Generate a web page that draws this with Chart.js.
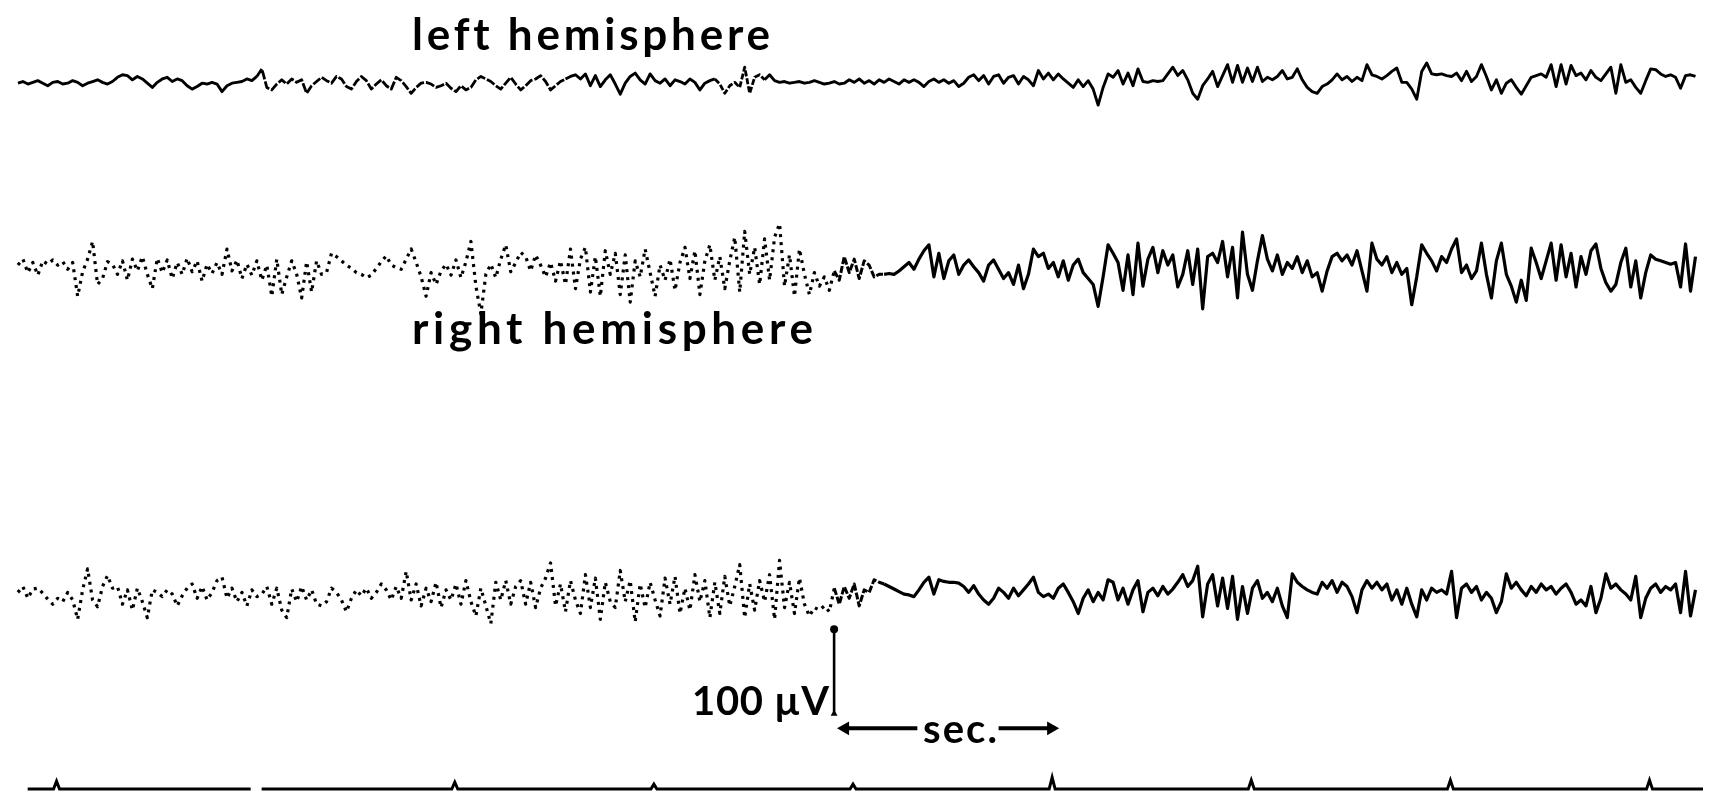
<!DOCTYPE html>
<html>
<head>
<meta charset="utf-8">
<script src="https://cdn.jsdelivr.net/npm/chart.js@4.4.1/dist/chart.umd.min.js"></script>
<style>
  html, body { margin: 0; padding: 0; background: #fff; }
  #wrap { position: relative; width: 1711px; height: 803px; overflow: hidden; }
  #eeg { position: absolute; left: 0; top: 0; }
  .lbl { position: absolute; font-family: Lato, "Open Sans", sans-serif; font-weight: 700; color: #000; white-space: nowrap; line-height: 1; }
</style>
</head>
<body>
<div id="wrap">
  <canvas id="eeg" width="1711" height="803"></canvas>
  <div class="lbl" id="lblLeft">left hemisphere</div>
  <div class="lbl" id="lblRight">right hemisphere</div>
  <div class="lbl" id="lblCal">100 µV</div>
  <div class="lbl" id="lblSec">sec.</div>
</div>
<script>
// sampling of the three traces (seconds)
const sampleStart = -0.194;
const sampleStep = 0.025;

// µV, upward positive
const channel1 = [
  -2, 0, -3, -1, 1, -2, -5, -1, 0, -3, -2, 1, -1, -5, -2, 0, 2, -1, -3, 0,
  5, 8, 7, 2, 6, 3, -2, -7, -1, 3, 5, 0, 3, 1, -5, -9, -6, -2, -3, -1,
  -3, -12, -5, -2, -1, 0, 3, 1, 6, 15, -7, -10, -3, 2, -3, 3, -1, 2, -14, -5,
  0, 5, 1, -2, 6, 3, -6, -9, 0, 6, 1, -9, -3, 2, -5, -9, 5, 1, -6, -14,
  -7, -2, -1, -3, -7, -5, -2, -8, -12, -5, -10, -7, 2, 6, 3, 0, -5, -9, -2, 5,
  -3, -10, -5, 1, 3, 7, 0, -10, -5, 0, 3, 6, 8, 3, 9, -5, 7, -6, 2, 8,
  -3, -15, -2, 6, 10, 2, -3, 9, 1, -2, 3, -5, 2, 0, -3, 3, -1, -10, -2, 1,
  3, -3, -14, -5, -1, -7, 17, -14, 5, 8, 2, 8, 1, -1, 0, -2, -1, 0, -2, -1,
  1, -1, -3, -2, 0, -3, -2, 2, -1, 3, -2, 1, -3, 2, -1, 3, 0, -3, 2, -1,
  2, -1, -6, 0, 3, -1, 2, -2, 1, -6, -2, 5, 8, 1, 7, -3, 6, 8, -2, 5,
  7, -3, 6, 2, -5, 13, 3, 10, 2, 9, 3, -2, -7, 2, -6, 1, -9, -28, -7, 9,
  5, 13, -3, 10, -5, 15, 0, -1, 1, 0, 1, 9, 17, 7, 13, 2, -14, -21, -5, 3,
  12, -6, 7, 20, -1, 19, -1, 16, 0, 17, 0, 5, 2, 6, 13, 3, 5, 15, 2, -7,
  -12, -14, -6, -3, 2, 9, 2, 6, 0, 5, 1, 20, 8, 6, 3, 7, 12, 16, -1, -1,
  -9, -21, 12, 22, 9, 8, 9, 7, 6, 10, 1, 12, 0, 6, 20, 6, -10, 2, -14, -2,
  2, -7, -15, -5, 5, 7, 9, 5, 20, -6, 20, -3, 19, 7, 10, 2, 13, 5, 1, 9,
  17, -14, 20, -1, 2, -7, -14, 1, 15, 14, 9, 6, 8, 5, -8, 7, 8, 6
];

const channel2 = [
  2, 9, -7, 5, -10, 7, 3, 8, 2, 6, -3, 5, -35, -6, 9, 30, -21, -14, 6, 3,
  -9, 7, -16, 9, -5, 12, -9, -26, 10, -7, 8, -14, 5, -9, 10, -6, 7, -17, 3, -8,
  5, -9, 21, -5, 8, -14, 3, -10, 7, -16, 2, -35, 9, -33, -12, 7, -9, -37, 6, -30,
  7, -9, -7, 16, 12, 7, 2, -2, -7, -9, -13, -10, -2, 6, 13, 2, -1, -3, 9, 21,
  5, -12, -35, -7, -21, -5, 3, -10, 8, -13, 6, 30, -23, -56, -9, 3, -13, 9, 26, -6,
  5, 17, 12, -5, 14, 2, -12, 5, -17, 7, -21, 21, -26, 9, 23, -30, 12, -35, 19, -9,
  16, -33, 14, -42, 7, -12, 21, -7, -35, 2, -16, 9, -28, 5, 23, -14, 19, -33, 7, 26,
  -16, 12, -26, 7, 35, -30, 42, -9, 23, -21, 33, -16, 35, 51, -23, 14, -35, 21, -9, -33,
  -7, -23, -12, -28, -5, -16, 12, -7, 9, -14, 7, 2, -12, -9, -9, -8, -9, -5, 0, 5,
  -3, 9, 19, 26, -12, 16, -14, 7, 14, -9, 2, 8, 0, -7, -17, 2, 8, -3, -14, -7,
  -21, 2, -26, -9, 21, 12, 16, -2, 5, -12, 7, -16, 2, 9, -7, -14, -21, -47, -12, 26,
  16, 5, -28, 14, -33, 28, -23, 9, 23, -7, 19, 2, 14, -24, -9, 19, -21, 21, -50, 12,
  16, 5, 30, -12, 23, -37, 41, -9, -28, 7, 37, 9, -5, 14, -9, 5, -2, 12, -7, 7,
  -12, -7, -29, -5, 12, 16, 7, 14, 2, 19, -5, -29, 28, 9, 2, 12, -7, 5, -9, -2,
  -45, -12, 26, 16, 7, -5, 12, 5, 21, 33, -7, 2, -14, -5, 28, -9, -37, 7, 28, -9,
  -23, -42, -16, -40, 22, 5, -14, 7, 28, -16, 26, -12, 16, -24, 12, -9, 19, 27, -2, -19,
  -29, -21, 5, 22, -24, 7, -37, -7, 14, 9, 7, 5, 3, 5, -24, 27, -29, 12
];

const channel3 = [
  2, 9, -5, 6, 7, 1, -6, -12, -5, -9, 2, -7, -30, 5, 30, -7, -15, 9, 22, 7,
  9, -12, 5, -19, 7, -9, -28, 5, 2, -3, 5, 0, -14, -2, 7, 12, -5, 9, -7, 2,
  16, 20, -5, 7, -9, 2, -14, 5, -3, 0, 9, -12, 7, -19, -28, 6, -9, 9, -7, 5,
  -12, -14, -9, 7, 2, -7, -21, -5, 5, -2, 7, -5, 2, 12, 5, -7, 9, -5, 27, -7,
  12, -14, 7, -9, 14, -16, 5, -7, 12, -12, 16, -9, -26, 7, -14, -35, 14, -7, 16, -12,
  9, 16, -12, 14, -16, 7, 19, 37, -14, 12, -21, 16, -7, -23, 23, -16, 19, -30, 14, -9,
  -16, 28, -9, 16, -33, 12, -16, 14, -7, -26, 19, -12, 21, -23, 7, -19, 23, -9, 16, -28,
  14, -23, 21, -14, 9, 35, -28, 12, -19, 16, -9, 23, -30, 40, -16, 14, -23, 19, -12, -26,
  -16, -19, -14, -21, 7, -12, 9, -5, 12, -14, 5, 2, 17, 14, 12, 9, 6, 3, 0, -1,
  -3, 5, 14, 20, 0, 17, 15, 14, 14, 13, 9, 2, 10, 0, -7, -12, -5, 7, 2, -5,
  7, -2, 5, 12, 20, 2, -3, 0, -5, 7, 12, 2, -9, -23, -5, 5, -9, 2, -7, 17,
  14, -7, 7, -12, 5, 16, -21, 2, 7, -2, 9, 0, 6, 14, 23, 9, 16, 33, -27, 12,
  23, -14, 19, -17, 21, -30, 9, -23, 7, 16, -5, 2, -9, 7, -14, -28, 24, 14, 9, 5,
  2, 0, 14, 7, 16, 2, 14, 9, -3, -22, 5, 16, 7, 14, 5, 12, -7, 5, -12, 7,
  -12, -27, 5, -7, 7, 2, 5, 0, 27, -28, 7, 12, 2, 9, -7, 2, -5, -22, -9, 24,
  7, 14, 5, -2, 9, 2, 12, 5, 9, 0, 7, 12, 2, -12, -7, -14, 9, -22, -5, 24,
  7, 12, 5, 0, -7, 21, -28, -5, 7, 12, 2, 9, 5, 12, -22, 27, -26, 5
];

// time marker channel: one blip per second
const markerTimes = [0, 2, 3, 4, 5, 6, 7, 8];
const markerPulse = [8, 7, 5, 5, 12, 9, 9, 9];
const markerSpan = [-0.145, 8.27];
const markerGap = [0.975, 1.03];

// calibration: 100 µV bar and one-second arrow
const calibTime = 3.905;
const calibValues = [0, 100];
const secArrow = [3.96, 4.323, 4.731, 4.995];

// page geometry
const W = 1711, H = 803;
const ORIGIN_PX = 49, PX_PER_SEC = 201, PX_PER_UV = 0.86;

function axisFor(baselinePx, pxPerUnit) {
  return {
    type: "linear",
    display: false,
    min: -(H - baselinePx) / pxPerUnit,
    max: baselinePx / pxPerUnit,
  };
}

function series(values) {
  return values.map((v, i) => ({ x: sampleStart + i * sampleStep, y: v }));
}

function markerLine() {
  const pts = [
    { x: markerSpan[0], y: 0 },
    { x: markerGap[0], y: 0 },
    { x: (markerGap[0] + markerGap[1]) / 2, y: null },
    { x: markerGap[1], y: 0 },
    { x: markerSpan[1], y: 0 },
  ];
  markerTimes.forEach((t, i) => {
    pts.push({ x: t - 0.015, y: 0 }, { x: t, y: markerPulse[i] }, { x: t + 0.015, y: 0 });
  });
  return pts.sort((a, b) => a.x - b.x);
}

// faded (fragmented) pen strokes on the left part of the record
function fadedSegments(ranges) {
  const pick = (ctx, k) => {
    const t = ctx.p0.parsed.x;
    for (const r of ranges) if (t >= r[0] && t < r[1]) return r[k];
    return undefined;
  };
  return {
    borderDash: (ctx) => pick(ctx, 2),
    borderWidth: (ctx) => pick(ctx, 3),
  };
}

const traceStyle = {
  borderColor: "#000",
  borderWidth: 3.2,
  pointRadius: 0,
  tension: 0,
  borderJoinStyle: "round",
  borderCapStyle: "butt",
  fill: false,
};

function arrowData() {
  return [
    { x: secArrow[0], y: 0 },
    { x: secArrow[1], y: 0 },
    { x: (secArrow[1] + secArrow[2]) / 2, y: null },
    { x: secArrow[2], y: 0 },
    { x: secArrow[3], y: 0 },
  ];
}

new Chart(document.getElementById("eeg"), {
  type: "line",
  data: {
    datasets: [
      {
        ...traceStyle,
        label: "left hemisphere",
        data: series(channel1),
        yAxisID: "y1",
        borderWidth: 2.9,
        segment: fadedSegments([[1.0, 2.55, [9, 2], 2.8], [3.3, 3.55, [6, 2], 2.8]]),
      },
      {
        ...traceStyle,
        label: "right hemisphere",
        data: series(channel2),
        yAxisID: "y2",
        segment: fadedSegments([[-1, 3.89, [3, 5], 3.2], [3.89, 4.15, [7, 2], 3]]),
      },
      {
        ...traceStyle,
        label: "right hemisphere 2",
        data: series(channel3),
        yAxisID: "y3",
        segment: fadedSegments([[-1, 3.89, [3, 5], 3.2], [3.89, 4.15, [7, 2], 3]]),
      },
      {
        label: "time marker",
        data: markerLine(),
        yAxisID: "yMark",
        borderColor: "#000",
        borderWidth: 3,
        pointRadius: 0,
        spanGaps: false,
      },
      {
        label: "100 µV",
        data: calibValues.map((v) => ({ x: calibTime, y: v })),
        yAxisID: "yCal",
        borderColor: "#000",
        borderWidth: 2.6,
        pointStyle: ["triangle", "circle"],
        pointRadius: [4, 4],
        pointBackgroundColor: "#000",
        pointBorderWidth: 0,
      },
      {
        label: "sec.",
        data: arrowData(),
        yAxisID: "ySec",
        borderColor: "#000",
        borderWidth: 4,
        spanGaps: false,
        pointStyle: "triangle",
        rotation: [-90, 0, 0, 0, 90],
        pointRadius: [8, 0, 0, 0, 8],
        pointBackgroundColor: "#000",
        pointBorderWidth: 0,
      },
    ],
  },
  options: {
    responsive: false,
    animation: false,
    layout: { padding: 0 },
    scales: {
      x: {
        type: "linear",
        display: false,
        min: -ORIGIN_PX / PX_PER_SEC,
        max: (W - ORIGIN_PX) / PX_PER_SEC,
      },
      y1: axisFor(75, PX_PER_UV),
      y2: axisFor(264, PX_PER_UV),
      y3: axisFor(598, PX_PER_UV),
      yCal: axisFor(720, PX_PER_UV),
      ySec: axisFor(735, 1),
      yMark: axisFor(797, 1),
    },
    plugins: { legend: { display: false }, tooltip: { enabled: false } },
  },
});

function placeLabel(id, left, right, baseline, size) {
  const el = document.getElementById(id);
  el.style.fontSize = size + "px";
  el.style.letterSpacing = "0px";
  const probe = document.createElement("span");
  probe.style.cssText = "display:inline-block;width:0;height:0;vertical-align:baseline";
  el.appendChild(probe);
  const w = el.getBoundingClientRect().width;
  const n = el.textContent.length;
  el.style.letterSpacing = (right - left - w) / (n - 1) + "px";
  el.style.left = left + "px";
  el.style.top = baseline - probe.offsetTop + "px";
}

placeLabel("lblLeft", 412, 769, 50, 44);
placeLabel("lblRight", 412, 813, 344, 44);
placeLabel("lblCal", 692, 829, 715, 40);
placeLabel("lblSec", 923, 997, 743, 40);
</script>
</body>
</html>
